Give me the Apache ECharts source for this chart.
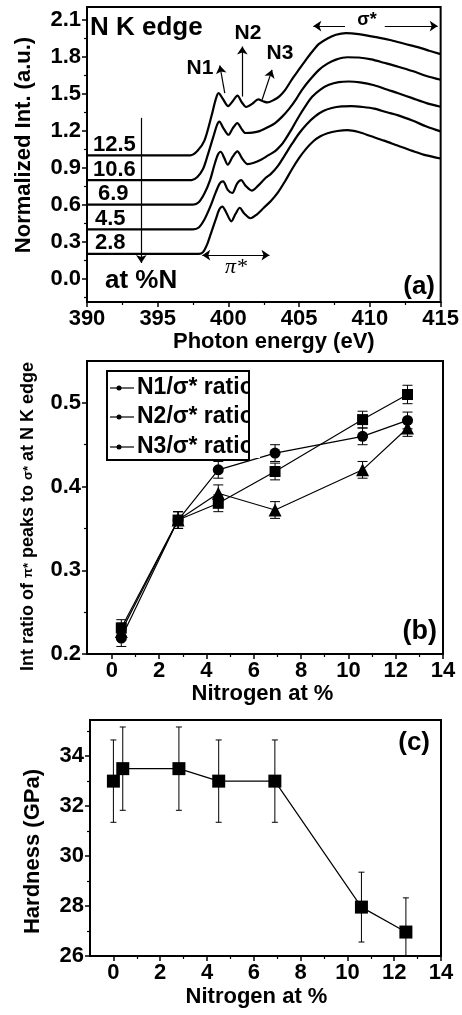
<!DOCTYPE html>
<html>
<head>
<meta charset="utf-8">
<script src="https://cdn.jsdelivr.net/npm/echarts@6/dist/echarts.min.js"></script>
<style>
html, body { margin: 0; padding: 0; background: #fff; }
#chart { width: 462px; height: 1015px; }
</style>
</head>
<body>
<div id="chart"></div>
<script>
// --- panel (a): N K edge spectra, [photon energy (eV), normalized intensity] ---
var spec28 = [[390,0.2],[397.9,0.2],[398.2,0.215],[398.5,0.28],[398.8,0.38],[399.1,0.48],[399.35,0.56],[399.57,0.585],[399.85,0.535],[400.2,0.465],[400.5,0.525],[400.8,0.575],[401.1,0.53],[401.55,0.49],[402.0,0.52],[402.5,0.575],[403.0,0.63],[403.5,0.70],[404.0,0.79],[404.5,0.89],[405.0,0.98],[405.5,1.055],[406.0,1.115],[406.5,1.155],[407.0,1.18],[407.7,1.198],[408.4,1.205],[409.2,1.19],[410.1,1.155],[411.0,1.12],[412.0,1.078],[413.0,1.037],[414.0,1.0],[415,0.975]];
var spec45 = [[390,0.4],[397.5,0.4],[397.9,0.415],[398.3,0.48],[398.7,0.58],[399.1,0.70],[399.4,0.775],[399.62,0.79],[399.95,0.72],[400.27,0.695],[400.6,0.77],[400.9,0.80],[401.2,0.755],[401.65,0.715],[402.1,0.755],[402.6,0.815],[403.0,0.85],[403.5,0.915],[404.0,1.005],[404.5,1.095],[405.0,1.18],[405.5,1.25],[406.1,1.315],[406.7,1.36],[407.3,1.385],[408.0,1.398],[408.7,1.40],[409.5,1.393],[410.3,1.38],[411.2,1.35],[412.0,1.325],[413.0,1.283],[414.0,1.235],[415,1.195]];
var spec69 = [[390,0.6],[397.5,0.6],[397.9,0.62],[398.3,0.69],[398.7,0.80],[399.0,0.92],[399.25,1.005],[399.45,1.03],[399.7,0.98],[399.95,0.925],[400.3,0.99],[400.63,1.033],[401.0,0.97],[401.35,0.93],[401.8,0.94],[402.3,0.965],[402.8,1.0],[403.3,1.035],[403.7,1.08],[404.0,1.127],[404.5,1.22],[405.0,1.32],[405.5,1.41],[405.9,1.475],[406.5,1.535],[407.1,1.573],[407.8,1.595],[408.5,1.60],[409.3,1.593],[410.3,1.57],[411.2,1.535],[412.0,1.505],[413.0,1.465],[414.0,1.425],[415,1.395]];
var spec106 = [[390,0.8],[397.4,0.8],[397.8,0.825],[398.2,0.89],[398.5,0.99],[398.9,1.14],[399.2,1.25],[399.35,1.275],[399.65,1.22],[400.0,1.168],[400.3,1.22],[400.63,1.263],[400.9,1.22],[401.2,1.182],[401.7,1.185],[402.2,1.197],[402.8,1.23],[403.3,1.263],[403.8,1.315],[404.3,1.38],[404.8,1.46],[405.2,1.533],[405.8,1.62],[406.4,1.695],[407.0,1.745],[407.6,1.778],[408.4,1.797],[409.2,1.795],[410.1,1.78],[411.0,1.752],[412.0,1.72],[413.0,1.685],[414.0,1.645],[415,1.614]];
var spec125 = [[390,1.0],[397.3,1.0],[397.8,1.035],[398.3,1.12],[398.8,1.32],[399.1,1.455],[399.3,1.505],[399.6,1.46],[399.98,1.40],[400.3,1.44],[400.63,1.485],[400.95,1.43],[401.25,1.393],[401.7,1.42],[402.1,1.455],[402.45,1.44],[402.75,1.43],[403.2,1.45],[403.6,1.48],[404.0,1.53],[404.5,1.62],[405.0,1.70],[405.5,1.78],[405.9,1.84],[406.4,1.905],[407.0,1.95],[407.6,1.98],[408.3,1.993],[409.2,1.985],[410.6,1.957],[411.5,1.935],[412.5,1.905],[413.5,1.875],[414.2,1.85],[415,1.822]];

// --- panel (b): int ratio of pi* peaks to sigma* ---
var nitrogenB = [0.4, 2.8, 4.5, 6.9, 10.6, 12.5];
var ratioN1 = [0.231, 0.360, 0.380, 0.418, 0.480, 0.510];
var ratioN2 = [0.219, 0.360, 0.420, 0.440, 0.460, 0.479];
var ratioN3 = [0.227, 0.360, 0.392, 0.372, 0.420, 0.470];
var errN1 = [0.01, 0.01, 0.01, 0.01, 0.01, 0.011];
var errN2 = [0.01, 0.01, 0.01, 0.01, 0.01, 0.01];
var errN3 = [0.01, 0.01, 0.01, 0.01, 0.01, 0.01];

// --- panel (c): hardness ---
var nitrogenC = [0, 0.4, 2.8, 4.5, 6.9, 10.6, 12.5];
var hardness = [33, 33.5, 33.5, 33, 33, 27.95, 26.95];
var hardnessErr = [1.65, 1.67, 1.67, 1.65, 1.65, 1.4, 1.37];

// --- tick values ---
var ticksAY = [0, 0.3, 0.6, 0.9, 1.2, 1.5, 1.8, 2.1];
var minorAY = [-0.15, 0.15, 0.45, 0.75, 1.05, 1.35, 1.65, 1.95];
var ticksN = [0, 2, 4, 6, 8, 10, 12, 14];
var minorN = [1, 3, 5, 7, 9, 11, 13];
var ticksBY = [0.2, 0.3, 0.4, 0.5];
var minorBY = [0.25, 0.35, 0.45];
var ticksCY = [26, 28, 30, 32, 34];
var minorCY = [27, 29, 31, 33, 35];

var FONT = '"Liberation Sans", Arial, sans-serif';

var eChart = echarts.init(document.getElementById('chart'));

function labelStyle(fmt) {
	return { color: '#000', fontSize: 22, fontWeight: 'bold', fontFamily: FONT, margin: 6, formatter: fmt };
}

function mainAxis(gridIndex, min, max, ticks, fmt, name, gap, pad) {
	var lbl = labelStyle(fmt);
	lbl.customValues = ticks;
	return {
		type: 'value', gridIndex: gridIndex, min: min, max: max,
		axisLine: { show: true, onZero: false, lineStyle: { color: '#000', width: 2 } },
		axisTick: { show: true, length: 5, customValues: ticks, lineStyle: { color: '#000', width: 1.5 } },
		axisLabel: lbl,
		splitLine: { show: false },
		name: name, nameLocation: 'middle', nameGap: gap,
		nameTextStyle: { color: '#000', fontSize: 22, fontWeight: 'bold', fontFamily: FONT, padding: pad }
	};
}

function minorAxis(gridIndex, min, max, ticks, pos) {
	return {
		type: 'value', gridIndex: gridIndex, min: min, max: max, position: pos, offset: 0,
		axisLine: { show: false, onZero: false },
		axisLabel: { show: false },
		splitLine: { show: false },
		axisTick: { show: true, length: 3, customValues: ticks, lineStyle: { color: '#000', width: 1.2 } }
	};
}

function fix1(v) { return v.toFixed(1); }

// x axes: 0 (a), 1 (b), 2 (b minor), 3 (c), 4 (c minor)
var xAxes = [
	{
		type: 'value', gridIndex: 0, min: 390, max: 415, interval: 5,
		axisLine: { show: true, onZero: false, lineStyle: { color: '#000', width: 2 } },
		axisTick: { show: true, length: 5, lineStyle: { color: '#000', width: 1.5 } },
		minorTick: { show: true, splitNumber: 2, length: 3, lineStyle: { color: '#000', width: 1.2 } },
		axisLabel: labelStyle(null),
		splitLine: { show: false },
		name: 'Photon energy (eV)', nameLocation: 'middle', nameGap: 29,
		nameTextStyle: { color: '#000', fontSize: 22, fontWeight: 'bold', fontFamily: FONT, padding: [0, 0, 0, 20] }
	},
	mainAxis(1, -1.05, 14, ticksN, null, 'Nitrogen at %', 29, [0, 5, 0, 0]),
	minorAxis(1, -1.05, 14, minorN, 'bottom'),
	mainAxis(2, -1, 14, ticksN, null, 'Nitrogen at %', 30, [0, 18, 0, 0]),
	minorAxis(2, -1, 14, minorN, 'bottom')
];

// y axes: 0 (a), 1 (a minor), 2 (b), 3 (b minor), 4 (c), 5 (c minor)
var yAxisB = mainAxis(1, 0.2, 0.55, ticksBY, fix1, 'Int ratio of {s|π*} peaks to {s|σ*} at N K edge', 50, [0, 18, 0, 0]);
yAxisB.nameTextStyle.fontSize = 18;
yAxisB.nameTextStyle.rich = { s: { fontSize: 13, fontWeight: 'bold', fontFamily: FONT, color: '#000' } };

var yAxes = [
	mainAxis(0, -0.19, 2.205, ticksAY, fix1, 'Normalized Int. (a.u.)', 52, [0, 0, 0, 19]),
	minorAxis(0, -0.19, 2.205, minorAY, 'left'),
	yAxisB,
	minorAxis(1, 0.2, 0.55, minorBY, 'left'),
	mainAxis(2, 25.99, 35.45, ticksCY, null, 'Hardness (GPa)', 46, [0, 27, 0, 0]),
	minorAxis(2, 25.99, 35.45, minorCY, 'left')
];

function errorBars(capHalf) {
	return function (params, api) {
		var x = api.value(0);
		var top = api.coord([x, api.value(2)]);
		var bot = api.coord([x, api.value(1)]);
		var cs = params.coordSys;
		var yMax = cs.y + cs.height;
		var st = { stroke: '#000', lineWidth: 1 };
		var children = [
			{ type: 'line', shape: { x1: top[0], y1: top[1], x2: top[0], y2: Math.min(bot[1], yMax) }, style: st },
			{ type: 'line', shape: { x1: top[0] - capHalf, y1: top[1], x2: top[0] + capHalf, y2: top[1] }, style: st }
		];
		if (bot[1] <= yMax) {
			children.push({ type: 'line', shape: { x1: bot[0] - capHalf, y1: bot[1], x2: bot[0] + capHalf, y2: bot[1] }, style: st });
		}
		return { type: 'group', children: children };
	};
}

function pairs(xs, ys) {
	return xs.map(function (x, i) { return [x, ys[i]]; });
}

function bars(xs, ys, es) {
	return xs.map(function (x, i) { return [x, ys[i] - es[i], ys[i] + es[i]]; });
}

var series = [];

[spec28, spec45, spec69, spec106, spec125].forEach(function (d) {
	series.push({
		type: 'line', xAxisIndex: 0, yAxisIndex: 0, data: d,
		smooth: 0.3, symbol: 'none', silent: true,
		lineStyle: { color: '#000', width: 2.2 }
	});
});

// arrows in panel (a)
function arrow(a, b, twoHeads) {
	return [
		{ coord: a, symbol: twoHeads ? 'arrow' : 'none', symbolSize: 8 },
		{ coord: b, symbol: 'arrow', symbolSize: 8 }
	];
}

series.push({
	type: 'line', xAxisIndex: 0, yAxisIndex: 0, data: [],
	markLine: {
		silent: true, animation: false,
		label: { show: false },
		lineStyle: { color: '#000', width: 1.2, type: 'solid' },
		data: [
			arrow([399.74, 1.506], [399.39, 1.73]),
			arrow([400.98, 1.478], [400.98, 1.884]),
			arrow([402.38, 1.452], [403.08, 1.695]),
			arrow([408.24, 2.05], [406.0, 2.05]),
			arrow([411.05, 2.05], [414.79, 2.05]),
			arrow([398.15, 0.19], [402.9, 0.19], true),
			arrow([393.84, 1.305], [393.84, 0.127])
		]
	}
});

// panel (b)
var bSeries = [
	{ y: ratioN1, e: errN1, sym: 'rect', size: 11 },
	{ y: ratioN2, e: errN2, sym: 'circle', size: 11 },
	{ y: ratioN3, e: errN3, sym: 'triangle', size: 13 }
];
bSeries.forEach(function (s) {
	series.push({
		type: 'custom', xAxisIndex: 1, yAxisIndex: 2, silent: true,
		renderItem: errorBars(5), data: bars(nitrogenB, s.y, s.e), z: 1
	});
	series.push({
		type: 'line', xAxisIndex: 1, yAxisIndex: 2, data: pairs(nitrogenB, s.y),
		symbol: s.sym, symbolSize: s.size, showAllSymbol: true, silent: true,
		itemStyle: { color: '#000' }, lineStyle: { color: '#000', width: 1.2 }, z: 2
	});
});

// panel (c)
series.push({
	type: 'custom', xAxisIndex: 3, yAxisIndex: 4, silent: true,
	renderItem: errorBars(3), data: bars(nitrogenC, hardness, hardnessErr), z: 1
});
series.push({
	type: 'line', xAxisIndex: 3, yAxisIndex: 4, data: pairs(nitrogenC, hardness),
	symbol: 'rect', symbolSize: 13, showAllSymbol: true, silent: true,
	itemStyle: { color: '#000' }, lineStyle: { color: '#000', width: 1.2 }, z: 2
});

function txt(x, y, text, size, opts) {
	var style = {
		text: text, x: x, y: y, fill: '#000',
		font: 'bold ' + size + 'px ' + FONT,
		align: 'left', verticalAlign: 'middle'
	};
	if (opts) { for (var k in opts) { style[k] = opts[k]; } }
	return { type: 'text', style: style, z: 10, silent: true };
}

var legendRows = [
	{ y: 388, label: 'N1/σ* ratio' },
	{ y: 417, label: 'N2/σ* ratio' },
	{ y: 447, label: 'N3/σ* ratio' }
];

var graphics = [
	txt(90, 28, 'N K edge', 26),
	txt(200, 68, 'N1', 21, { align: 'center' }),
	txt(248, 33, 'N2', 21, { align: 'center' }),
	txt(280, 53, 'N3', 21, { align: 'center' }),
	txt(367, 20, 'σ*', 18, { align: 'center' }),
	{ type: 'text', z: 10, silent: true, style: { text: 'π*', x: 236, y: 267, fill: '#000', font: 'italic 22px "Liberation Serif", serif', align: 'center', verticalAlign: 'middle' } },
	txt(93, 156, '12.5', 22, { verticalAlign: 'bottom' }),
	txt(93, 181, '10.6', 22, { verticalAlign: 'bottom' }),
	txt(98, 205, '6.9', 22, { verticalAlign: 'bottom' }),
	txt(95, 230, '4.5', 22, { verticalAlign: 'bottom' }),
	txt(95, 254, '2.8', 22, { verticalAlign: 'bottom' }),
	txt(105, 281, 'at %N', 26),
	txt(435, 287, '(a)', 26, { align: 'right' }),
	txt(437, 632, '(b)', 27, { align: 'right' }),
	txt(430, 743, '(c)', 26, { align: 'right' })
];

legendRows.forEach(function (r) {
	graphics.push({ type: 'line', z: 10, silent: true, shape: { x1: 110, y1: r.y, x2: 134, y2: r.y }, style: { stroke: '#000', lineWidth: 1.2 } });
	graphics.push({ type: 'circle', z: 10, silent: true, shape: { cx: 119, cy: r.y, r: 2.5 }, style: { fill: '#000' } });
	graphics.push(txt(137, r.y, r.label, 23));
});
graphics.push({ type: 'rect', z: 11, silent: true, shape: { x: 250, y: 373, width: 10, height: 85 }, style: { fill: '#fff' } });
graphics.push({ type: 'rect', z: 12, silent: true, shape: { x: 107, y: 371, width: 142, height: 89 }, style: { fill: null, stroke: '#000', lineWidth: 2 } });

var eChartOption = {
	animation: false,
	backgroundColor: '#fff',
	grid: [
		{ left: 87, top: 7, width: 356, height: 295, show: true, borderColor: '#000', borderWidth: 2 },
		{ left: 87, top: 361, width: 356, height: 293, show: true, borderColor: '#000', borderWidth: 2 },
		{ left: 90, top: 720, width: 351, height: 236, show: true, borderColor: '#000', borderWidth: 2 }
	],
	xAxis: xAxes,
	yAxis: yAxes,
	series: series,
	graphic: graphics
};

eChart.setOption(eChartOption);
</script>
</body>
</html>
